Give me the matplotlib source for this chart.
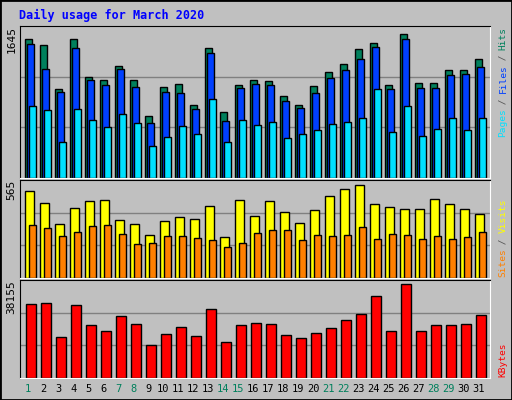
import matplotlib
matplotlib.use("Agg")
import matplotlib.pyplot as plt
import numpy as np

days = list(range(1, 32))
weekend = [1, 7, 8, 14, 15, 21, 22, 28, 29]

hits = [1561, 1495, 1002, 1561, 1133, 1100, 1265, 1100, 695, 1024, 1056, 826, 1462, 739, 1046, 1100,
        1089, 925, 826, 1035, 1188, 1287, 1451, 1517, 1046, 1616, 1067, 1067, 1210, 1210, 1341]
files = [1506, 1232, 969, 1462, 1100, 1046, 1232, 1024, 618, 969, 958, 771, 1407, 640, 1012, 1056,
         1046, 866, 793, 958, 1122, 1210, 1342, 1473, 1002, 1561, 1012, 1012, 1155, 1166, 1254]
pages = [815, 760, 409, 782, 650, 574, 716, 618, 355, 464, 585, 497, 892, 409, 650, 596,
         629, 453, 497, 541, 607, 629, 672, 1002, 519, 815, 475, 552, 672, 541, 672]
visits = [515, 443, 323, 413, 455, 461, 347, 323, 256, 341, 365, 353, 425, 244, 461, 371,
          455, 389, 329, 401, 485, 527, 551, 437, 419, 407, 407, 467, 437, 407, 383]
sites = [317, 299, 251, 275, 311, 317, 263, 202, 208, 251, 251, 239, 227, 184, 208, 269,
         287, 287, 227, 257, 251, 257, 305, 233, 263, 257, 233, 251, 233, 245, 275]
kbytes = [29430, 29850, 16350, 29030, 20850, 18810, 24530, 21260, 13080, 17580, 20440, 16760,
          27390, 14310, 20850, 21670, 21260, 17170, 15940, 17990, 20030, 22890, 25340, 32700,
          18810, 37200, 18810, 20850, 20850, 21260, 24940]

GRAY = "#C0C0C0"
plt.rcParams["font.family"] = "DejaVu Sans Mono"

W, H = 512, 400
fig = plt.figure(figsize=(W / 100, H / 100), dpi=100, facecolor=GRAY)
# outer bevel
fig.add_artist(plt.Rectangle((0, 0), 1, 1, transform=fig.transFigure, fill=False,
                             edgecolor="black", lw=2))
fig.text(19 / W, 1 - 15 / H, "Daily usage for March 2020", color="#0000FF",
         fontsize=8.5, fontweight="bold", va="center", ha="left")


def make_ax(top, bottom):
    ax = fig.add_axes([20 / W, 1 - bottom / H, 470 / W, (bottom - top) / H])
    ax.set_facecolor(GRAY)
    ax.set_xlim(-0.353, 470 / 15 - 0.353)
    ax.set_xticks([])
    ax.set_yticks([])
    for s in ax.spines.values():
        s.set_color("black")
    ax.spines["right"].set_color("white")
    ax.spines["bottom"].set_color("white")
    return ax


x = np.arange(31)
kw = dict(align="edge", edgecolor="black", linewidth=1)


def panel(ax, vmax, label):
    ax.set_ylim(0, vmax * 1.0)
    for f in (1 / 3, 2 / 3):
        ax.axhline(vmax * f, color="#808080", lw=1, zorder=0)
    ax.text(-0.6, vmax, label, rotation=90, ha="right", va="top", fontsize=8,
            transform=ax.transData, clip_on=False)


ax1 = make_ax(26, 178)
ax1.bar(x, hits, 0.47, color="#00805C", **kw)
ax1.bar(x + 0.13, files, 0.47, color="#0040FF", **kw)
ax1.bar(x + 0.27, pages, 0.46, color="#00E0FF", **kw)
panel(ax1, 1645 * 1.04, "1645")

ax2 = make_ax(180, 278)
ax2.bar(x, visits, 0.6, color="#FFFF00", **kw)
ax2.bar(x + 0.27, sites, 0.46, color="#FF8000", **kw)
panel(ax2, 565 * 1.03, "565")

ax3 = make_ax(280, 378)
ax3.bar(x + 0.07, kbytes, 0.66, color="#FF0000", **kw)
panel(ax3, 38155 * 1.02, "38155")

for d in days:
    fig.text((20 + (d - 1) * 15 + 8.3) / W, 1 - 389 / H, str(d), ha="center", va="center",
             fontsize=7.5, color="#00805C" if d in weekend else "black")


def right_label(parts, ybottom):
    # rotated text reads bottom to top, so stack the pieces upward
    y = ybottom
    for txt, col in parts:
        fig.text(503 / W, 1 - y / H, txt, rotation=90, ha="center", va="bottom",
                 fontsize=6.8, color=col)
        y -= len(txt) * 5.45


right_label([("Pages", "#00E0FF"), (" / ", "#555555"), ("Files", "#0040FF"),
             (" / ", "#555555"), ("Hits", "#00805C")], 137)
right_label([("Sites", "#FF8000"), (" / ", "#555555"), ("Visits", "#FFFF00")], 277)
right_label([("KBytes", "#FF0000")], 377)

fig.savefig("out.png", dpi=100, facecolor=GRAY)
